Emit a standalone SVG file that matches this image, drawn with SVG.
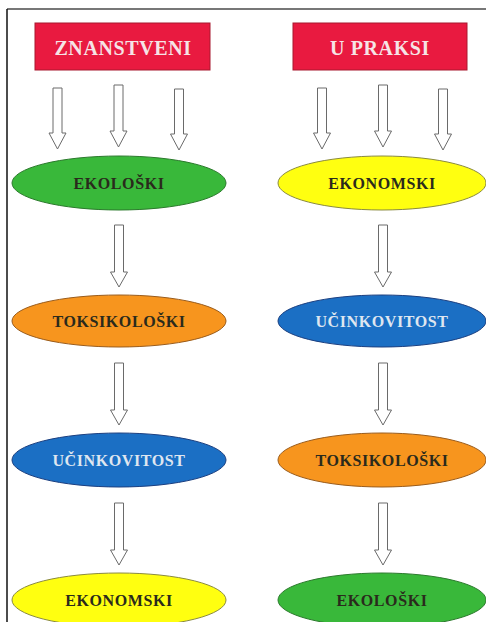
<svg xmlns="http://www.w3.org/2000/svg" width="486" height="622" viewBox="0 0 486 622">
<style>
.hdr{fill:#e91a40;stroke:#a8182f;stroke-width:1}
.htx{font-family:"Liberation Serif",serif;font-weight:bold;font-size:20px;letter-spacing:0.6px;fill:#f6e4e6;text-anchor:middle}
.tx{font-family:"Liberation Serif",serif;font-weight:bold;font-size:16px;letter-spacing:0.6px;fill:#2a2a1c;text-anchor:middle}
.tw{fill:#dfe6f0}
.arr{fill:#ffffff;stroke:#6a6a6a;stroke-width:1}
.green{fill:#39b83a;stroke:#2b7a2c;stroke-width:1}
.yellow{fill:#ffff10;stroke:#8a8a40;stroke-width:1}
.orange{fill:#f7951e;stroke:#9a5c1c;stroke-width:1}
.blue{fill:#1b6fc4;stroke:#1b3f80;stroke-width:1}
</style>
<rect width="486" height="622" fill="#ffffff"/>
<line x1="7" y1="9" x2="486" y2="9" stroke="#777777" stroke-width="2"/>
<line x1="7" y1="9" x2="7" y2="622" stroke="#111111" stroke-width="1.5"/>
<g id="h1"><rect class="hdr" x="35" y="23" width="175" height="47"/><text class="htx" x="123" y="55">ZNANSTVENI</text></g>
<g id="h2"><rect class="hdr" x="293" y="23" width="174" height="47"/><text class="htx" x="380" y="55">U PRAKSI</text></g>
<g id="l1"><ellipse class="green" cx="119" cy="183" rx="107" ry="27"/><text class="tx" x="119" y="189">EKOLOŠKI</text></g>
<g id="l2"><ellipse class="orange" cx="119" cy="321" rx="107" ry="26"/><text class="tx" x="119" y="327">TOKSIKOLOŠKI</text></g>
<g id="l3"><ellipse class="blue" cx="119" cy="460" rx="107" ry="27"/><text class="tx tw" x="119" y="466">UČINKOVITOST</text></g>
<g id="l4"><ellipse class="yellow" cx="119" cy="600" rx="107" ry="27"/><text class="tx" x="119" y="606">EKONOMSKI</text></g>
<g id="r1"><ellipse class="yellow" cx="382" cy="183" rx="104" ry="27"/><text class="tx" x="382" y="189">EKONOMSKI</text></g>
<g id="r2"><ellipse class="blue" cx="382" cy="321" rx="104" ry="26"/><text class="tx tw" x="382" y="327">UČINKOVITOST</text></g>
<g id="r3"><ellipse class="orange" cx="382" cy="460" rx="104" ry="27"/><text class="tx" x="382" y="466">TOKSIKOLOŠKI</text></g>
<g id="r4"><ellipse class="green" cx="382" cy="600" rx="104" ry="27"/><text class="tx" x="382" y="606">EKOLOŠKI</text></g>
<g id="connectors">
<path class="arr" d="M53,88 H62 V133 H66 L57.5,149 L49,133 H53 Z"/>
<path class="arr" d="M114,85 H123 V131 H127 L118.5,147 L110,131 H114 Z"/>
<path class="arr" d="M174.5,89 H183.5 V134 H187.5 L179,150 L170.5,134 H174.5 Z"/>
<path class="arr" d="M317.5,88 H326.5 V133 H330.5 L322,149 L313.5,133 H317.5 Z"/>
<path class="arr" d="M378.5,85 H387.5 V131 H391.5 L383,147 L374.5,131 H378.5 Z"/>
<path class="arr" d="M438.5,89 H447.5 V134 H451.5 L443,150 L434.5,134 H438.5 Z"/>
<path class="arr" d="M114.5,225 H123.5 V272 H127.5 L119,287 L110.5,272 H114.5 Z"/>
<path class="arr" d="M378.5,225 H387.5 V272 H391.5 L383,287 L374.5,272 H378.5 Z"/>
<path class="arr" d="M114.5,363 H123.5 V410 H127.5 L119,425 L110.5,410 H114.5 Z"/>
<path class="arr" d="M378.5,363 H387.5 V410 H391.5 L383,425 L374.5,410 H378.5 Z"/>
<path class="arr" d="M114.5,503 H123.5 V550 H127.5 L119,565 L110.5,550 H114.5 Z"/>
<path class="arr" d="M378.5,503 H387.5 V550 H391.5 L383,565 L374.5,550 H378.5 Z"/>
</g>
</svg>
